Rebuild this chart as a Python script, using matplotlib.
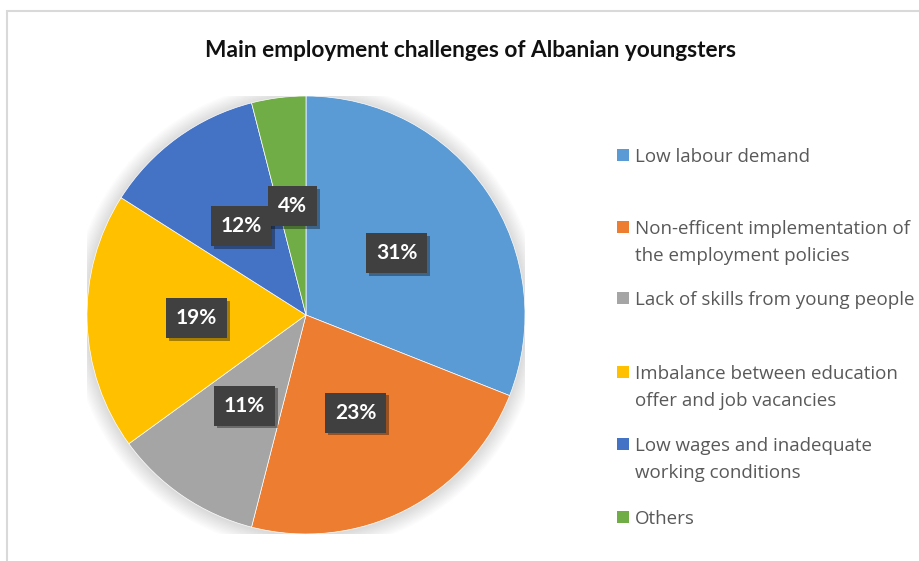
import matplotlib
matplotlib.use("Agg")
import matplotlib.pyplot as plt
from matplotlib import font_manager
from matplotlib.patches import Rectangle, Circle
import matplotlib.patheffects as pe

# ---- data ----
categories = [
    "Low labour demand",
    "Non-efficent implementation of\nthe employment policies",
    "Lack of skills from young people",
    "Imbalance between education\noffer and job vacancies",
    "Low wages and inadequate\nworking conditions",
    "Others",
]
values = [31, 23, 11, 19, 12, 4]
colors = ["#5B9BD5", "#ED7D31", "#A5A5A5", "#FFC000", "#4472C4", "#70AD47"]
title = "Main employment challenges of Albanian youngsters"

W, H = 920, 561
fig = plt.figure(figsize=(W / 100, H / 100), dpi=100)
fig.patch.set_facecolor("white")

names = {f.name for f in font_manager.fontManager.ttflist}
title_font = "Lato" if "Lato" in names else "DejaVu Sans"
legend_font = "Open Sans" if "Open Sans" in names else "DejaVu Sans"
label_font = "Lato" if "Lato" in names else "DejaVu Sans"

def fx(px):
    return px / W

def fy(py):
    return 1 - py / H

# frame border (chart area edge)
fig.add_artist(Rectangle((fx(7), fy(H + 20)), fx(W + 20), (H + 20 - 11) / H,
                         transform=fig.transFigure, fill=False,
                         edgecolor="#d9d9d9", linewidth=1.5))

# pie axes: center (306, 315), radius 219 px
cx, cy, r = 306, 315, 219
ax = fig.add_axes([fx(cx - r), fy(cy + r), 2 * r / W, 2 * r / H])
ax.set_xlim(-1, 1)
ax.set_ylim(-1, 1)
ax.axis("off")

# soft shadow behind pie
for i in range(12):
    ax.add_patch(Circle((0.0, -0.005), 1.0 + 0.006 * (12 - i), color="#000000",
                        alpha=0.012, zorder=0, linewidth=0))

wedges, texts, autotexts = ax.pie(
    values, colors=colors, startangle=90, counterclock=False, radius=1.0,
    autopct=lambda p: f"{p:.0f}%", pctdistance=0.5,
    wedgeprops=dict(edgecolor="white", linewidth=0.5),
    textprops=dict(color="white", fontsize=15, fontweight="bold", family=label_font),
)
ax.set_xlim(-1, 1)
ax.set_ylim(-1, 1)
for t in autotexts:
    t.set_bbox(dict(boxstyle="square,pad=0.48", facecolor="#404040", edgecolor="none"))
    t.get_bbox_patch().set_path_effects([
        pe.SimplePatchShadow(offset=(2, -2), shadow_rgbFace="#000000", alpha=0.35),
        pe.Normal()])

# title
tt = fig.text(fx(471), fy(57), title, ha="center", va="baseline",
              fontsize=18, fontweight="bold", family=title_font, color="#111111")

# legend (manual, Excel-like irregular spacing)
line_y = [[155], [227, 254], [298], [372, 399], [444, 471], [517]]
leg_texts = []
for cat, col, ys in zip(categories, colors, line_y):
    lines = cat.split("\n")
    fig.add_artist(Rectangle((fx(617), fy(ys[0] + 6)), fx(12), 12 / H,
                             transform=fig.transFigure, facecolor=col,
                             edgecolor="none"))
    for ln, yy in zip(lines, ys):
        t = fig.text(fx(635), fy(yy), ln, ha="left", va="center_baseline",
                     fontsize=13, family=legend_font, color="#595959")
        leg_texts.append(t)

# fit font sizes to the reference widths
fig.canvas.draw()
rend = fig.canvas.get_renderer()
w = tt.get_window_extent(rend).width
tt.set_fontsize(tt.get_fontsize() * 533 / w)

ref = [t for t in leg_texts if t.get_text().startswith("Lack")][0]
w = ref.get_window_extent(rend).width
scale = 278 / w
for t in leg_texts:
    t.set_fontsize(t.get_fontsize() * scale)

fig.savefig("out.png", dpi=100, facecolor="white")
